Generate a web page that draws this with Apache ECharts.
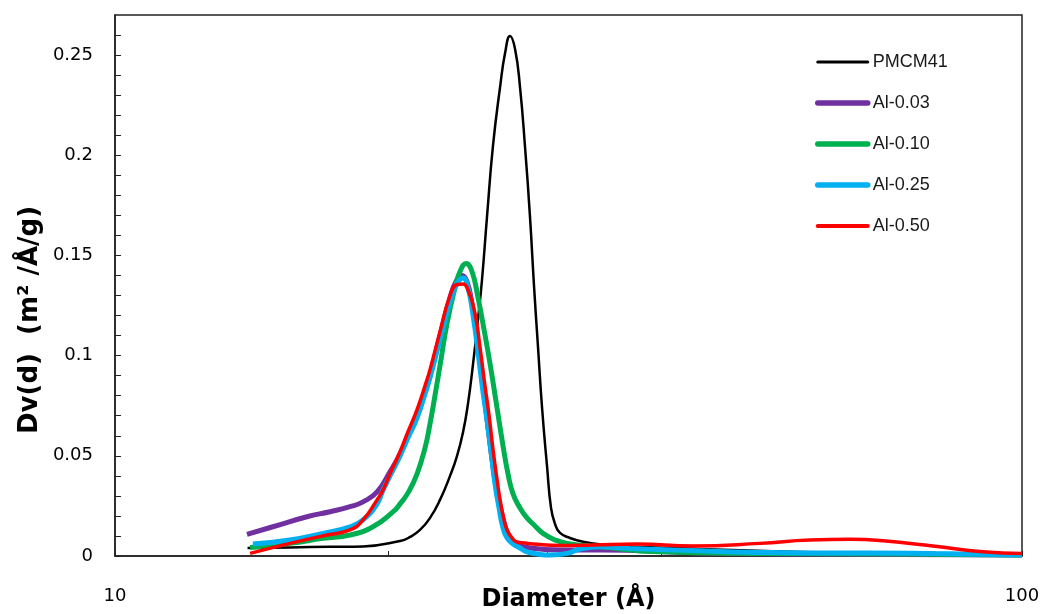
<!DOCTYPE html>
<html>
<head>
<meta charset="utf-8">
<script src="https://cdn.jsdelivr.net/npm/echarts@6/dist/echarts.min.js"></script>
<style>
html, body { margin: 0; padding: 0; background: #fff; }
#chart { width: 1046px; height: 614px; }
</style>
</head>
<body>
<div id="chart"></div>
<script>
// diameters (Å) and Dv(d) values, one pair of arrays per sample
var pmcmD = [14.0, 15.59, 17.26, 18.77, 20.62, 21.15, 21.69, 22.25, 22.82, 23.41, 23.83, 24.20, 24.50, 24.82, 25.13, 25.39, 25.71, 26.11, 26.58, 26.92, 27.26, 27.61, 27.96, 28.32, 28.68, 28.97, 29.27, 29.57, 29.95, 30.25, 30.56, 30.95, 31.74, 32.81, 34.25, 36.97, 44.15, 56.92, 73.36, 100];
var pmcmV = [0.004, 0.0043, 0.0046, 0.0048, 0.0075, 0.0095, 0.013, 0.019, 0.028, 0.040, 0.050, 0.062, 0.076, 0.096, 0.118, 0.138, 0.169, 0.205, 0.234, 0.251, 0.2595, 0.253, 0.234, 0.204, 0.169, 0.135, 0.104, 0.074, 0.0445, 0.024, 0.016, 0.0115, 0.009, 0.0071, 0.0058, 0.0048, 0.0035, 0.002, 0.0013, 0.0005];

var al003D = [13.98, 14.93, 16.28, 17.26, 18.16, 18.77, 19.45, 20.10, 20.62, 21.04, 21.53, 21.97, 22.25, 22.82, 23.41, 23.77, 24.13, 24.44, 24.75, 25.07, 25.32, 25.58, 25.91, 26.24, 26.58, 26.92, 27.26, 27.75, 28.68, 30.95, 34.25, 44.15, 56.92, 73.36, 100];
var al003V = [0.0108, 0.0146, 0.0196, 0.0221, 0.0246, 0.027, 0.032, 0.042, 0.051, 0.060, 0.070, 0.082, 0.090, 0.110, 0.129, 0.137, 0.140, 0.137, 0.126, 0.110, 0.095, 0.077, 0.056, 0.038, 0.025, 0.015, 0.009, 0.006, 0.004, 0.003, 0.003, 0.0015, 0.001, 0.0008, 0.0005];

var al010D = [14.09, 15.59, 16.96, 18.16, 19.25, 20.25, 20.62, 21.07, 21.53, 21.97, 22.25, 22.53, 22.82, 23.23, 23.71, 24.01, 24.38, 24.75, 25.13, 25.52, 25.91, 26.31, 26.78, 27.12, 27.47, 27.96, 28.46, 29.05, 29.64, 30.56, 31.50, 34.25, 39.89, 51.42, 73.36, 100];
var al010V = [0.0043, 0.0063, 0.0088, 0.0105, 0.0146, 0.022, 0.026, 0.032, 0.041, 0.054, 0.066, 0.080, 0.095, 0.116, 0.134, 0.142, 0.146, 0.142, 0.129, 0.113, 0.096, 0.077, 0.055, 0.041, 0.031, 0.024, 0.019, 0.015, 0.0113, 0.008, 0.0063, 0.0046, 0.0021, 0.0013, 0.001, 0.0005];

var al025D = [14.19, 15.59, 16.96, 18.16, 18.77, 19.45, 19.75, 20.62, 21.04, 21.53, 21.97, 22.25, 22.82, 23.41, 23.83, 24.20, 24.50, 24.82, 25.13, 25.45, 25.71, 25.98, 26.24, 26.51, 26.78, 27.06, 27.47, 27.96, 28.46, 29.42, 30.18, 31.50, 32.56, 34.25, 36.97, 44.15, 51.42, 58.38, 67.99, 79.77, 100];
var al025V = [0.006, 0.008, 0.0113, 0.0146, 0.018, 0.026, 0.033, 0.050, 0.059, 0.069, 0.081, 0.089, 0.108, 0.127, 0.136, 0.1388, 0.134, 0.120, 0.102, 0.082, 0.068, 0.052, 0.036, 0.024, 0.014, 0.009, 0.006, 0.004, 0.0021, 0.0008, 0.0005, 0.0013, 0.0035, 0.0046, 0.0038, 0.0026, 0.0018, 0.0015, 0.0015, 0.0012, 0.0005];

var al050D = [14.09, 15.59, 17.13, 18.16, 18.77, 19.45, 19.75, 20.10, 20.62, 21.04, 21.53, 21.97, 22.25, 22.82, 23.41, 23.83, 24.20, 24.44, 24.94, 25.26, 25.58, 25.85, 26.11, 26.38, 26.58, 26.85, 27.06, 27.40, 27.75, 28.32, 28.90, 30.95, 33.65, 37.63, 43.38, 51.42, 58.38, 64.62, 70.26, 79.77, 90.58, 100];
var al050V = [0.0013, 0.0063, 0.0105, 0.013, 0.018, 0.028, 0.033, 0.041, 0.052, 0.062, 0.073, 0.085, 0.093, 0.112, 0.130, 0.1355, 0.1358, 0.134, 0.121, 0.104, 0.085, 0.070, 0.053, 0.038, 0.028, 0.018, 0.013, 0.009, 0.007, 0.0065, 0.006, 0.0052, 0.0055, 0.006, 0.005, 0.0063, 0.008, 0.0083, 0.0076, 0.005, 0.0021, 0.0013];

var seriesNames = ['PMCM41', 'Al-0.03', 'Al-0.10', 'Al-0.25', 'Al-0.50'];
var seriesColors = ['#000000', '#7030A0', '#00B050', '#00B0F0', '#FF0000'];
var seriesWidths = [2.5, 5, 5, 5, 3.5];

// axis ticks and labels
var xTickValues = [10, 20, 30, 40, 50, 60, 70, 80, 90, 100];
var xTickLabels = [10, 100];
var yTickValues = [0, 0.01, 0.02, 0.03, 0.04, 0.05, 0.06, 0.07, 0.08, 0.09, 0.1, 0.11, 0.12, 0.13, 0.14, 0.15, 0.16, 0.17, 0.18, 0.19, 0.2, 0.21, 0.22, 0.23, 0.24, 0.25, 0.26];
var yTickLabels = [0, 0.05, 0.1, 0.15, 0.2, 0.25];

function pairs(d, v) {
  var out = [];
  for (var i = 0; i < d.length; i++) out.push([d[i], v[i]]);
  return out;
}

var allD = [pmcmD, al003D, al010D, al025D, al050D];
var allV = [pmcmV, al003V, al010V, al025V, al050V];

var series = [];
var legendData = [];
for (var i = 0; i < seriesNames.length; i++) {
  series.push({
    name: seriesNames[i],
    type: 'line',
    data: pairs(allD[i], allV[i]),
    symbol: 'none',
    smooth: 0.5,
    color: seriesColors[i],
    lineStyle: { color: seriesColors[i], width: seriesWidths[i] }
  });
  // legend shows only the line, no symbol
  legendData.push({
    name: seriesNames[i],
    itemStyle: { opacity: 0 },
    lineStyle: { color: seriesColors[i], width: seriesWidths[i] + 0.5, cap: 'round' }
  });
}

var myChart = echarts.init(document.getElementById('chart'));
var option = {
  animation: false,
  backgroundColor: '#fff',
  grid: {
    left: 115, right: 24, top: 15, bottom: 58,
    outerBoundsMode: 'none',
    show: true, borderColor: '#222', borderWidth: 1.5
  },
  legend: {
    orient: 'vertical',
    left: 810, top: 48,
    itemWidth: 50, itemHeight: 18, itemGap: 23,
    textStyle: { fontFamily: 'Liberation Sans', fontSize: 18, color: '#1a1a1a' },
    data: legendData
  },
  graphic: [{
    type: 'text',
    x: 30, y: 320,
    rotation: Math.PI / 2,
    style: {
      text: 'Dv(d)  (m² /Å/g)',
      fontFamily: 'DejaVu Sans', fontWeight: 'bold', fontSize: 26,
      fill: '#000', textAlign: 'center', textVerticalAlign: 'middle'
    }
  }],
  xAxis: {
    type: 'log',
    logBase: 10,
    min: 10, max: 100,
    name: 'Diameter (Å)',
    nameLocation: 'middle',
    nameGap: 32,
    nameMoveOverlap: false,
    nameTextStyle: { fontFamily: 'DejaVu Sans', fontWeight: 'bold', fontSize: 24, color: '#000' },
    axisLine: { lineStyle: { color: '#222', width: 1.5 } },
    axisTick: { show: true, inside: true, length: 5, customValues: xTickValues, lineStyle: { color: '#222' } },
    axisLabel: { customValues: xTickLabels, margin: 31, fontFamily: 'DejaVu Sans', fontSize: 18, color: '#000' },
    splitLine: { show: false }
  },
  yAxis: {
    type: 'value',
    min: 0, max: 0.27,
    axisLine: { lineStyle: { color: '#222', width: 1.5 } },
    axisTick: { show: true, inside: true, length: 6, customValues: yTickValues, lineStyle: { color: '#222' } },
    axisLabel: {
      customValues: yTickLabels, margin: 22,
      fontFamily: 'DejaVu Sans', fontSize: 18, color: '#000',
      formatter: function (v) { return String(v); }
    },
    splitLine: { show: false }
  },
  series: series
};
myChart.setOption(option);
</script>
</body>
</html>
